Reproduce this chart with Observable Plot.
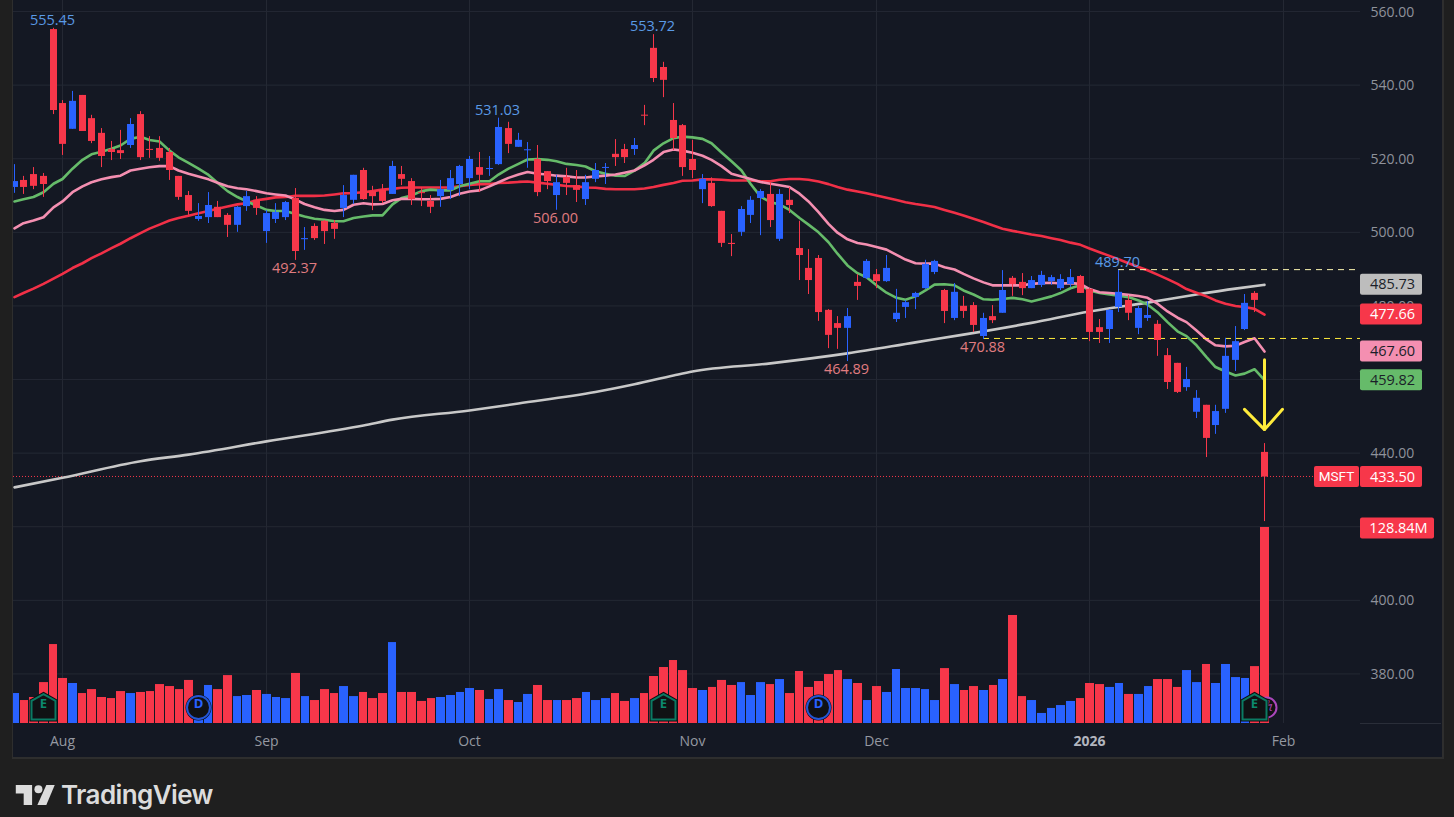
<!DOCTYPE html>
<html>
<head>
<meta charset="utf-8">
<script src="https://cdn.jsdelivr.net/npm/d3@7"></script>
<script src="https://cdn.jsdelivr.net/npm/@observablehq/plot@0.6"></script>
<style>
html,body{margin:0;padding:0;background:#1f1f1f;width:1454px;height:817px;overflow:hidden}
#pane{position:absolute;left:12px;top:0;width:1429px;height:757px;background:#141823;border-left:1px solid #2e2e2e;border-right:2px solid #2e2e2e;border-bottom:2px solid #2e2e2e;box-sizing:content-box}
#wrap{position:absolute;left:0;top:0;width:1441px;height:757px}
#wrap > svg{position:absolute;left:0;top:0;background:transparent}
#footer{position:absolute;left:0;top:759px;width:1454px;height:58px}
#footer svg{position:absolute;left:15px;top:26px}
#footer span{position:absolute;left:61px;top:20px;font:600 26px Inter,"Noto Sans",sans-serif;letter-spacing:-.6px;color:#dcdcdc}
</style>
</head>
<body>
<div id="pane"></div>
<div id="wrap"></div>
<div id="footer">
  <svg width="40" height="20" viewBox="0 0 37.5 19"><path fill="#dcdcdc" d="M0.5 0H16V19H8V8H0.5Z"/><circle cx="22" cy="4" r="3.8" fill="#dcdcdc"/><path fill="#dcdcdc" d="M37.5 0H29.5L21 19H29.5Z"/></svg>
  <span>TradingView</span>
</div>
<script>
const open = [512.2,514.1,515.7,515.2,555.1,535,528,537.2,530.9,526.9,522.5,522.2,523.6,532,522.5,522.8,521.7,515.2,510,503.5,504,506.8,504.6,501.9,507,508.7,500.2,503.5,504,509.2,498,501.6,503,502.4,506.5,508.7,516.8,511.1,511.4,510.3,515.7,513.8,510.7,508.4,509.7,511.4,513,514.6,517.6,517.1,518.4,528.2,523.1,522.2,519.8,516.5,510,514.9,512.7,508.9,514.4,517.4,521.2,522.5,522.5,531.8,550,544.8,530.4,529,519.8,511.6,513.3,505.7,497,500,504.6,509.2,510.3,498.1,508.7,495.6,490.2,492.9,478.8,475.2,473.9,486.4,487.5,488.5,486.6,476.3,479.6,482.3,484.7,489.1,484.2,476.6,479.9,480.1,471.7,477.1,478,487.5,486.4,484.7,485.6,486.6,484.7,485.8,488,484.5,474.1,473.6,479.6,481.5,473.9,476.6,475,466.5,464.4,457.8,451.1,453,447.5,451.9,465.2,473.6,483.4,440.2];
const high = [518.4,515.2,517.6,516,555.45,535.8,538.3,537.2,531.8,528.2,524.7,527.7,530.9,532.8,526,526,522.8,515.2,511.1,507.8,510.8,508.4,505.1,507,511.1,509.7,505.9,507.8,508.4,511.9,501.3,502.3,503.2,503.2,512.7,515.5,517.4,512.5,513,519.3,517.9,514.6,512.2,510,514.1,516.8,518.2,520.6,521.7,520.6,531.03,529.9,526.9,524.4,523.6,516.5,515.5,517.4,516.8,515.5,518.7,518.7,525.2,523.9,525.5,534.5,553.72,546.2,535,529.3,525,515.7,514.8,505.7,499.4,507,509.7,511.6,513.5,511.6,512.2,503,495.3,493.7,479,477.1,479.3,488.5,492.6,489.9,493.7,484.5,481.5,483.7,492.4,492.4,484.5,486.1,482.6,480.9,478,480.1,489.6,488,488.8,488,489.4,488.3,488.5,489.9,488.3,484.7,476.3,479,489.7,482.8,479.9,481.2,476,468.4,464.4,463.3,457,453,453,471.2,474.4,483.1,483.9,442.6];
const low = [510.6,510.3,511.6,509.5,532,520.9,528,527.4,524.1,517.6,519.5,519.8,522.8,519.5,520.1,519.3,514.1,508.7,504.6,503,502.4,504,498.6,500,505.7,504.6,497,502.4,503.2,492.37,495.1,497.8,496.7,498.1,504,507.6,508.7,505.9,507.8,510.3,512.7,507.3,507,505.1,506.8,508.9,509.7,511.6,510.8,515.2,518.2,521.4,523.1,517.4,509.7,511.6,506,510,508.1,507.3,513.5,513,517.9,518.7,520.9,529,540.7,536.6,522.2,515.2,514.6,507.8,506.8,495.9,493.4,498.9,502.4,499.1,501.3,497.5,505.1,486.9,483.1,475.8,468.4,468.2,464.89,481.5,487.2,484.7,486.4,475.5,476.6,479,484.5,488.5,475.2,476,476.6,472.8,470.88,475.2,478,482.6,482.8,484.7,485,485.6,484.2,485,483.4,470.3,469.8,469.8,478.2,476,472.2,475.8,466.3,457.3,456.2,456.8,449.4,438.8,445.1,450.8,462.2,473.3,478.2,421.4];
const close = [513.8,512.2,512.5,513,533.1,523.9,535.6,527.4,524.7,520.6,521.7,521.4,529.3,520.3,522.3,520.1,516.8,509.5,505.7,504.3,507.3,504,501.9,506.8,509.7,506.5,505.1,505.4,508.1,494.8,498.3,498.3,500.2,500.8,510,515.5,508.9,509.7,508.4,517.9,514.4,508.9,510.6,506.8,511.6,514.6,517.9,519.8,515.5,517.3,528.5,523.9,525,522.4,510.8,513.8,513.5,513.3,511.4,513.5,516.8,517.6,520.3,520.3,523.6,531.6,541.8,541.3,525.5,517.6,516.8,514.4,507,497,496.7,506.2,508.7,511.1,503.2,510.3,507.3,493.7,486.9,478.2,472,473.9,477.1,485.3,492.1,486.6,490.2,478,480.9,483.4,491.3,492.1,478.5,483.7,478.5,474.7,476.6,476,484.2,485.8,484.7,486.9,488.3,487.7,487.2,487.7,483.4,472.8,472.8,478.8,483.7,478,479.3,477.4,470.6,459.2,456.5,460,454.9,444,451.3,466.3,470.3,480.7,481.5,433.5];
const volume = [19.7,15.1,17.1,26.9,51.9,29.6,26.3,19.7,22.3,17.1,16.4,21,19.7,20.4,21,25.6,24.3,22.3,28.3,14.2,25,22.3,31.5,17.7,18.4,21.7,19.1,17.1,16.4,32.9,17.7,15.1,22.3,19.7,24.3,17.7,20.4,16.4,19.7,53.2,20.4,20.4,14.5,16.4,17.1,18.4,20.4,23,21.7,15.8,22.3,15.1,13.8,19.1,25,15.1,15.1,15.1,16.4,20.4,15.1,16.4,19.7,14.5,16.4,19.7,30.9,36.8,41.4,34.8,23,21.7,23.7,28.3,25,26.9,18.4,26.9,25.6,28.9,19.7,34.2,23.7,27.6,32.2,34.8,28.9,26.3,15.1,24.3,20.4,35.5,23,23,22.3,15.1,36.1,25.6,21.7,24.3,21.7,25,28.9,71,17.7,15.1,6.6,9.9,11.8,14.5,16.4,26.3,25.6,23.7,26.3,19.1,19.1,24.3,28.9,28.9,23.7,34.8,26.9,38.8,26.3,38.8,30.2,29.6,37.4,128.84];
const maGreen = [508.4,509,509.6,510.9,513.2,514.5,517.3,519.7,521.2,521.9,522.7,523.6,525.4,526,525.1,524.7,522.2,520.4,518.9,517.3,515.6,513.5,511.2,509.6,508.4,507.3,506.1,505.8,505.8,505,504.3,503.7,503.4,503,503,503.9,504.3,504.6,504.6,507.6,509.3,510,511.2,511.6,511.4,511.4,512.5,513.2,513.9,513.9,515.7,517.3,518.6,519.8,519.9,519.7,519.3,518.6,518.3,517.9,516.6,515.9,515.4,515.3,516.8,518.8,522.2,524.2,525.6,526,525.8,525.4,524.2,521.7,519.3,516.8,513.2,509.7,508.2,507.6,506.1,503.9,502.1,500,497.3,494.2,491,488.9,487.8,485.6,483.6,482.2,481.7,482.6,484.2,485.8,485.9,485.6,484.2,483.1,481.8,481.7,481.9,482.2,481.8,481.2,481.9,482.6,483.5,484.8,485.6,484.2,483.5,483.1,482.8,482.4,481.5,480.4,478.3,475.6,473.1,471.8,469.3,466.1,463.4,462.2,461.1,461.6,462.8,459.82];
const maPink = [501.1,502.5,503.2,504.1,506.8,508.4,510.9,512.5,513.6,514.4,515,515.4,516.8,517.3,517.7,518,518,516.8,515.9,515.2,514.4,513.5,512.5,512,511.7,511.2,510.6,510.3,510,508.9,507.7,506.8,506.1,505.8,506.1,507.5,507.9,507.6,507.7,508.7,509.1,509.1,509,509,509.1,509.6,510.5,511.1,511.4,512.5,513.6,514.8,515.7,516.4,515.9,515.7,515.4,515.2,514.9,514.9,515.2,515.4,515.7,516.2,516.8,518.2,519.7,521.8,522.5,522.2,521.6,520.8,519.7,518,515.9,515.2,514.5,513.7,513.2,512.8,512.3,510.5,508.4,505.5,502.3,499.9,498.1,497.1,496.7,496,495.3,493.9,492.6,491.6,491.5,491.5,490.5,489.9,488.7,487.5,486.4,485.6,485.6,485.6,485.6,486,486.2,486.3,486.1,486.2,486,484.6,483.7,483.5,483.3,483,482.7,482.2,480.6,478.5,476.8,475.6,473.3,470.9,469.3,469,469.2,470.2,471.2,467.6];
const maRed = [482.4,483.5,484.7,486,487.4,488.7,490.3,491.6,493,494.3,495.7,496.9,498.4,499.8,501,502.1,503.2,503.9,504.5,505.2,505.8,506.4,507,507.6,507.9,508.7,509.1,509.5,509.6,509.9,509.9,509.9,510,510.3,510.6,510.7,510.9,511.2,511.6,511.8,512.1,512.2,512.2,512.2,512.2,512.2,512.5,512.9,513.1,513.1,513.4,513.5,513.7,513.8,513.5,513.2,512.9,512.6,512.5,512.2,512.1,511.8,511.7,511.7,511.7,511.9,512.3,512.9,513.4,514,514.1,514.4,514.4,514.3,514.1,514.1,514.1,513.9,513.9,514.3,514.5,514.5,514.3,513.8,513.1,512.3,511.6,511.1,510.6,510,509.4,508.8,508.2,507.7,507.3,506.9,506.1,505.3,504.6,503.7,502.8,501.9,501,500.4,499.9,499.4,499,498.4,497.9,497.2,496.6,495.6,494.6,493.6,492.7,491.6,490.6,489.7,488.5,487.3,486,484.6,483.6,482.6,481.5,480.6,480,479.7,479.2,477.66];
const whiteBars = [0,5,13,18,26,36,39,47,52,60,64,68,70,78,86,93,98,105,111,117,122,126,129];
const whiteVals = [430.7,433.3,437.8,439.6,443.2,447.5,449.1,451.6,453.5,456.6,458.7,461.1,462.2,464.4,467.1,470.1,472.2,475.4,478.5,480.9,483.1,484.7,485.73];
const priceTicks = [380,400,420,440,460,480,500,520,540,560];
const monthBars = [5,26,47,70,89,131];
const monthLabels = ["Aug","Sep","Oct","Nov","Dec","Feb"];
const yearBars = [111];
const yearLabels = ["2026"];
const hiLoBars = [4,66,50,114,29,56,86,100];
const hiLoVals = [555.45,553.72,531.03,489.70,492.37,506.00,464.89,470.88];
const hiLoDir = ["high","high","high","high","low","low","low","low"];
const levelVals = [489.70,471.0];
const levelStart = [114,100];
const levelColor = ["#fdf6b0","#ffeb3b"];
const arrowBars = [129,129,127,129,130.9];
const arrowVals = [465.4,446.4,451.9,446.4,451.9];
const tagVals = [485.73,477.66,467.60,459.82,433.50];
const tagFill = ["#bdbdbd","#f7374a","#f48fb1","#66bb6a","#f7374a"];
const tagInk = ["#1b1f29","#ffffff","#1b1f29","#1b1f29","#ffffff"];
const earnBars = [3,67,128];
const divBars = [19,83];
const splitBars = [129];

const UP = "#2962ff", DOWN = "#f7374a", GRID = "#242833", AXIS = "#8f929b";
const FONT = '"Open Sans","Noto Sans",sans-serif';
const bars = open.map((o,i)=>({i,open:o,high:high[i],low:low[i],close:close[i],volume:volume[i],up:close[i]>=o,
  green:maGreen[i],pink:maPink[i],red:maRed[i]}));
const white = whiteBars.map((b,k)=>({b,v:whiteVals[k]}));
const hiLo = hiLoBars.map((b,k)=>({b,v:hiLoVals[k],dir:hiLoDir[k]}));
const levels = levelVals.map((v,k)=>({v,start:levelStart[k],color:levelColor[k]}));
const arrow = arrowBars.map((b,k)=>({b,v:arrowVals[k]}));
const tags = tagVals.map((v,k)=>({v,fill:tagFill[k],ink:tagInk[k]}));
const bodyTop = d=>{const t=Math.max(d.open,d.close),b=Math.min(d.open,d.close);return t-b<0.28?(t+b)/2+0.14:t};
const bodyBot = d=>{const t=Math.max(d.open,d.close),b=Math.min(d.open,d.close);return t-b<0.28?(t+b)/2-0.14:b};
const candleColor = d=>d.up?UP:DOWN;
const common = {width:1441,height:757,marginLeft:13,marginRight:81,marginBottom:34,
  style:{background:"transparent",fontFamily:FONT}};
const xScale = {domain:[-0.0774,138.93],round:true,axis:null};
// pixel-side columns expressed in bar units on the shared x scale
const TAG_L = 138.93, TAG_R = 145.33, TAG_C = 142.24, VOL_R = 146.56, VOL_C = 142.9, SYM_L = 134.19, SYM_C = 136.5, AXIS_R = 147.3;

const pricePlot = Plot.plot({...common,marginTop:0,x:xScale,
  y:{domain:[366.53,563],axis:null},
  marks:[
    Plot.gridX([...monthBars,...yearBars],{stroke:GRID,strokeOpacity:1}),
    Plot.gridY(priceTicks,{stroke:GRID,strokeOpacity:1}),
    Plot.axisX(monthBars,{anchor:"bottom",tickSize:0,tickPadding:13,fontSize:14,color:"#9598a1",label:null,tickFormat:d=>monthLabels[monthBars.indexOf(d)]}),
    Plot.axisX(yearBars,{anchor:"bottom",tickSize:0,tickPadding:13,fontSize:14,fontWeight:700,color:"#b2b5be",label:null,tickFormat:d=>yearLabels[yearBars.indexOf(d)]}),
    Plot.axisY(priceTicks,{anchor:"right",tickSize:0,tickPadding:10,fontSize:14,color:AXIS,label:null,dy:0.5,tickFormat:d=>d.toFixed(2)}),
    Plot.ruleY([366.53],{x1:()=>TAG_L,x2:()=>AXIS_R,stroke:"#2a2e39"}),
    Plot.ruleY([433.5],{stroke:DOWN,strokeWidth:1,strokeDasharray:"1 2",dy:-0.6}),
    Plot.line(white,{x:"b",y:"v",stroke:"#c8c8c8",strokeWidth:2.6,curve:"monotone-x"}),
    Plot.line(bars,{x:"i",y:"red",stroke:"#f23047",strokeWidth:2.6}),
    Plot.line(bars,{x:"i",y:"green",stroke:"#66bb6a",strokeWidth:2.6}),
    Plot.line(bars,{x:"i",y:"pink",stroke:"#f48fb1",strokeWidth:2.6}),
    Plot.ruleY(levels,{y:"v",x1:"start",x2:()=>TAG_L,stroke:d=>d.color,strokeWidth:1,strokeDasharray:"6 5",dy:-0.6}),
    Plot.ruleX(bars,{x:"i",y1:"low",y2:"high",stroke:candleColor,strokeWidth:1,clip:true}),
    Plot.ruleX(bars,{x:"i",y1:bodyBot,y2:bodyTop,stroke:candleColor,strokeWidth:7,clip:true}),
    Plot.line(arrow.slice(0,2),{x:"b",y:"v",stroke:"#ffeb3b",strokeWidth:3}),
    Plot.line(arrow.slice(2),{x:"b",y:"v",stroke:"#ffeb3b",strokeWidth:3,strokeLinejoin:"miter"}),
    Plot.text(hiLo.filter(d=>d.dir==="high"),{x:"b",y:"v",text:d=>d.v.toFixed(2),dy:-8,dx:-1,fill:"#5a9ae6",fontSize:14.5,fontFamily:FONT}),
    Plot.text(hiLo.filter(d=>d.dir==="low"),{x:"b",y:"v",text:d=>d.v.toFixed(2),dy:8,dx:-1,fill:"#e07c80",fontSize:14.5,fontFamily:FONT}),
    Plot.rect(tags,{x1:()=>TAG_L,x2:()=>TAG_R,y1:"v",y2:"v",insetTop:-10.5,insetBottom:-10.5,fill:d=>d.fill,rx:2}),
    Plot.text(tags,{x:()=>TAG_C,y:"v",text:d=>d.v.toFixed(2),fill:d=>d.ink,fontSize:14.5,fontFamily:FONT,fontWeight:500}),
    Plot.rect([433.5],{x1:()=>SYM_L,x2:()=>TAG_L-0.1,y1:d=>d,y2:d=>d,insetTop:-10.5,insetBottom:-10.5,fill:DOWN,rx:2}),
    Plot.text(["MSFT"],{x:()=>SYM_C,y:()=>433.5,text:d=>d,fill:"#fff",fontSize:13.5,fontFamily:'Roboto,sans-serif',fontWeight:400})
  ]
});

const house = {draw(ctx,size){const s=Math.sqrt(size/Math.PI);
  ctx.moveTo(0,-1.12*s);ctx.lineTo(s,-0.55*s);ctx.lineTo(s,1.0*s);ctx.lineTo(-s,1.0*s);ctx.lineTo(-s,-0.55*s);ctx.closePath();}};
const volumePlot = Plot.plot({...common,marginTop:527,x:xScale,
  y:{domain:[0,128.84],axis:null},
  marks:[
    Plot.rectY(bars,{x1:d=>d.i-0.4,x2:d=>d.i+0.6,y:"volume",insetRight:1,fill:candleColor,clip:true}),
    Plot.dot(splitBars,{x:d=>d+0.25,frameAnchor:"bottom",dy:-16,r:10,fill:"#101114",stroke:"#ab47bc",strokeWidth:2}),
    Plot.text(splitBars,{x:d=>d+0.55,frameAnchor:"bottom",dy:-16,text:()=>"ϟ",fill:"#ab47bc",fontSize:11}),
    Plot.dot(divBars,{x:d=>d,frameAnchor:"bottom",dy:-16,r:13,fill:"#0b0c10"}),
    Plot.dot(divBars,{x:d=>d,frameAnchor:"bottom",dy:-16,r:11.5,fill:"#101114",stroke:"#2456d6",strokeWidth:2}),
    Plot.text(divBars,{x:d=>d,frameAnchor:"bottom",dy:-16,text:()=>"D",fill:"#2962ff",fontSize:13,fontWeight:700,fontFamily:FONT}),
    Plot.dot(earnBars,{x:d=>d,frameAnchor:"bottom",dy:-16,r:12,symbol:house,fill:"#0b0c10",stroke:"#0b0c10",strokeWidth:4}),
    Plot.dot(earnBars,{x:d=>d,frameAnchor:"bottom",dy:-16,r:12,symbol:house,fill:"#101114",stroke:"#0b7a63",strokeWidth:2}),
    Plot.text(earnBars,{x:d=>d,frameAnchor:"bottom",dy:-16,text:()=>"E",fill:"#0b8a6f",fontSize:13,fontWeight:700,fontFamily:FONT}),
    Plot.rect([128.84],{x1:()=>TAG_L,x2:()=>VOL_R,y1:d=>d,y2:d=>d,insetTop:-10.5,insetBottom:-10.5,dy:1,fill:DOWN,rx:2}),
    Plot.text([128.84],{x:()=>VOL_C,y:d=>d,dy:1,text:d=>d.toFixed(2)+"M",fill:"#fff",fontSize:14.5,fontFamily:FONT,fontWeight:500})
  ]
});
const wrap = document.getElementById("wrap");
wrap.append(pricePlot, volumePlot);
</script>
</body>
</html>
